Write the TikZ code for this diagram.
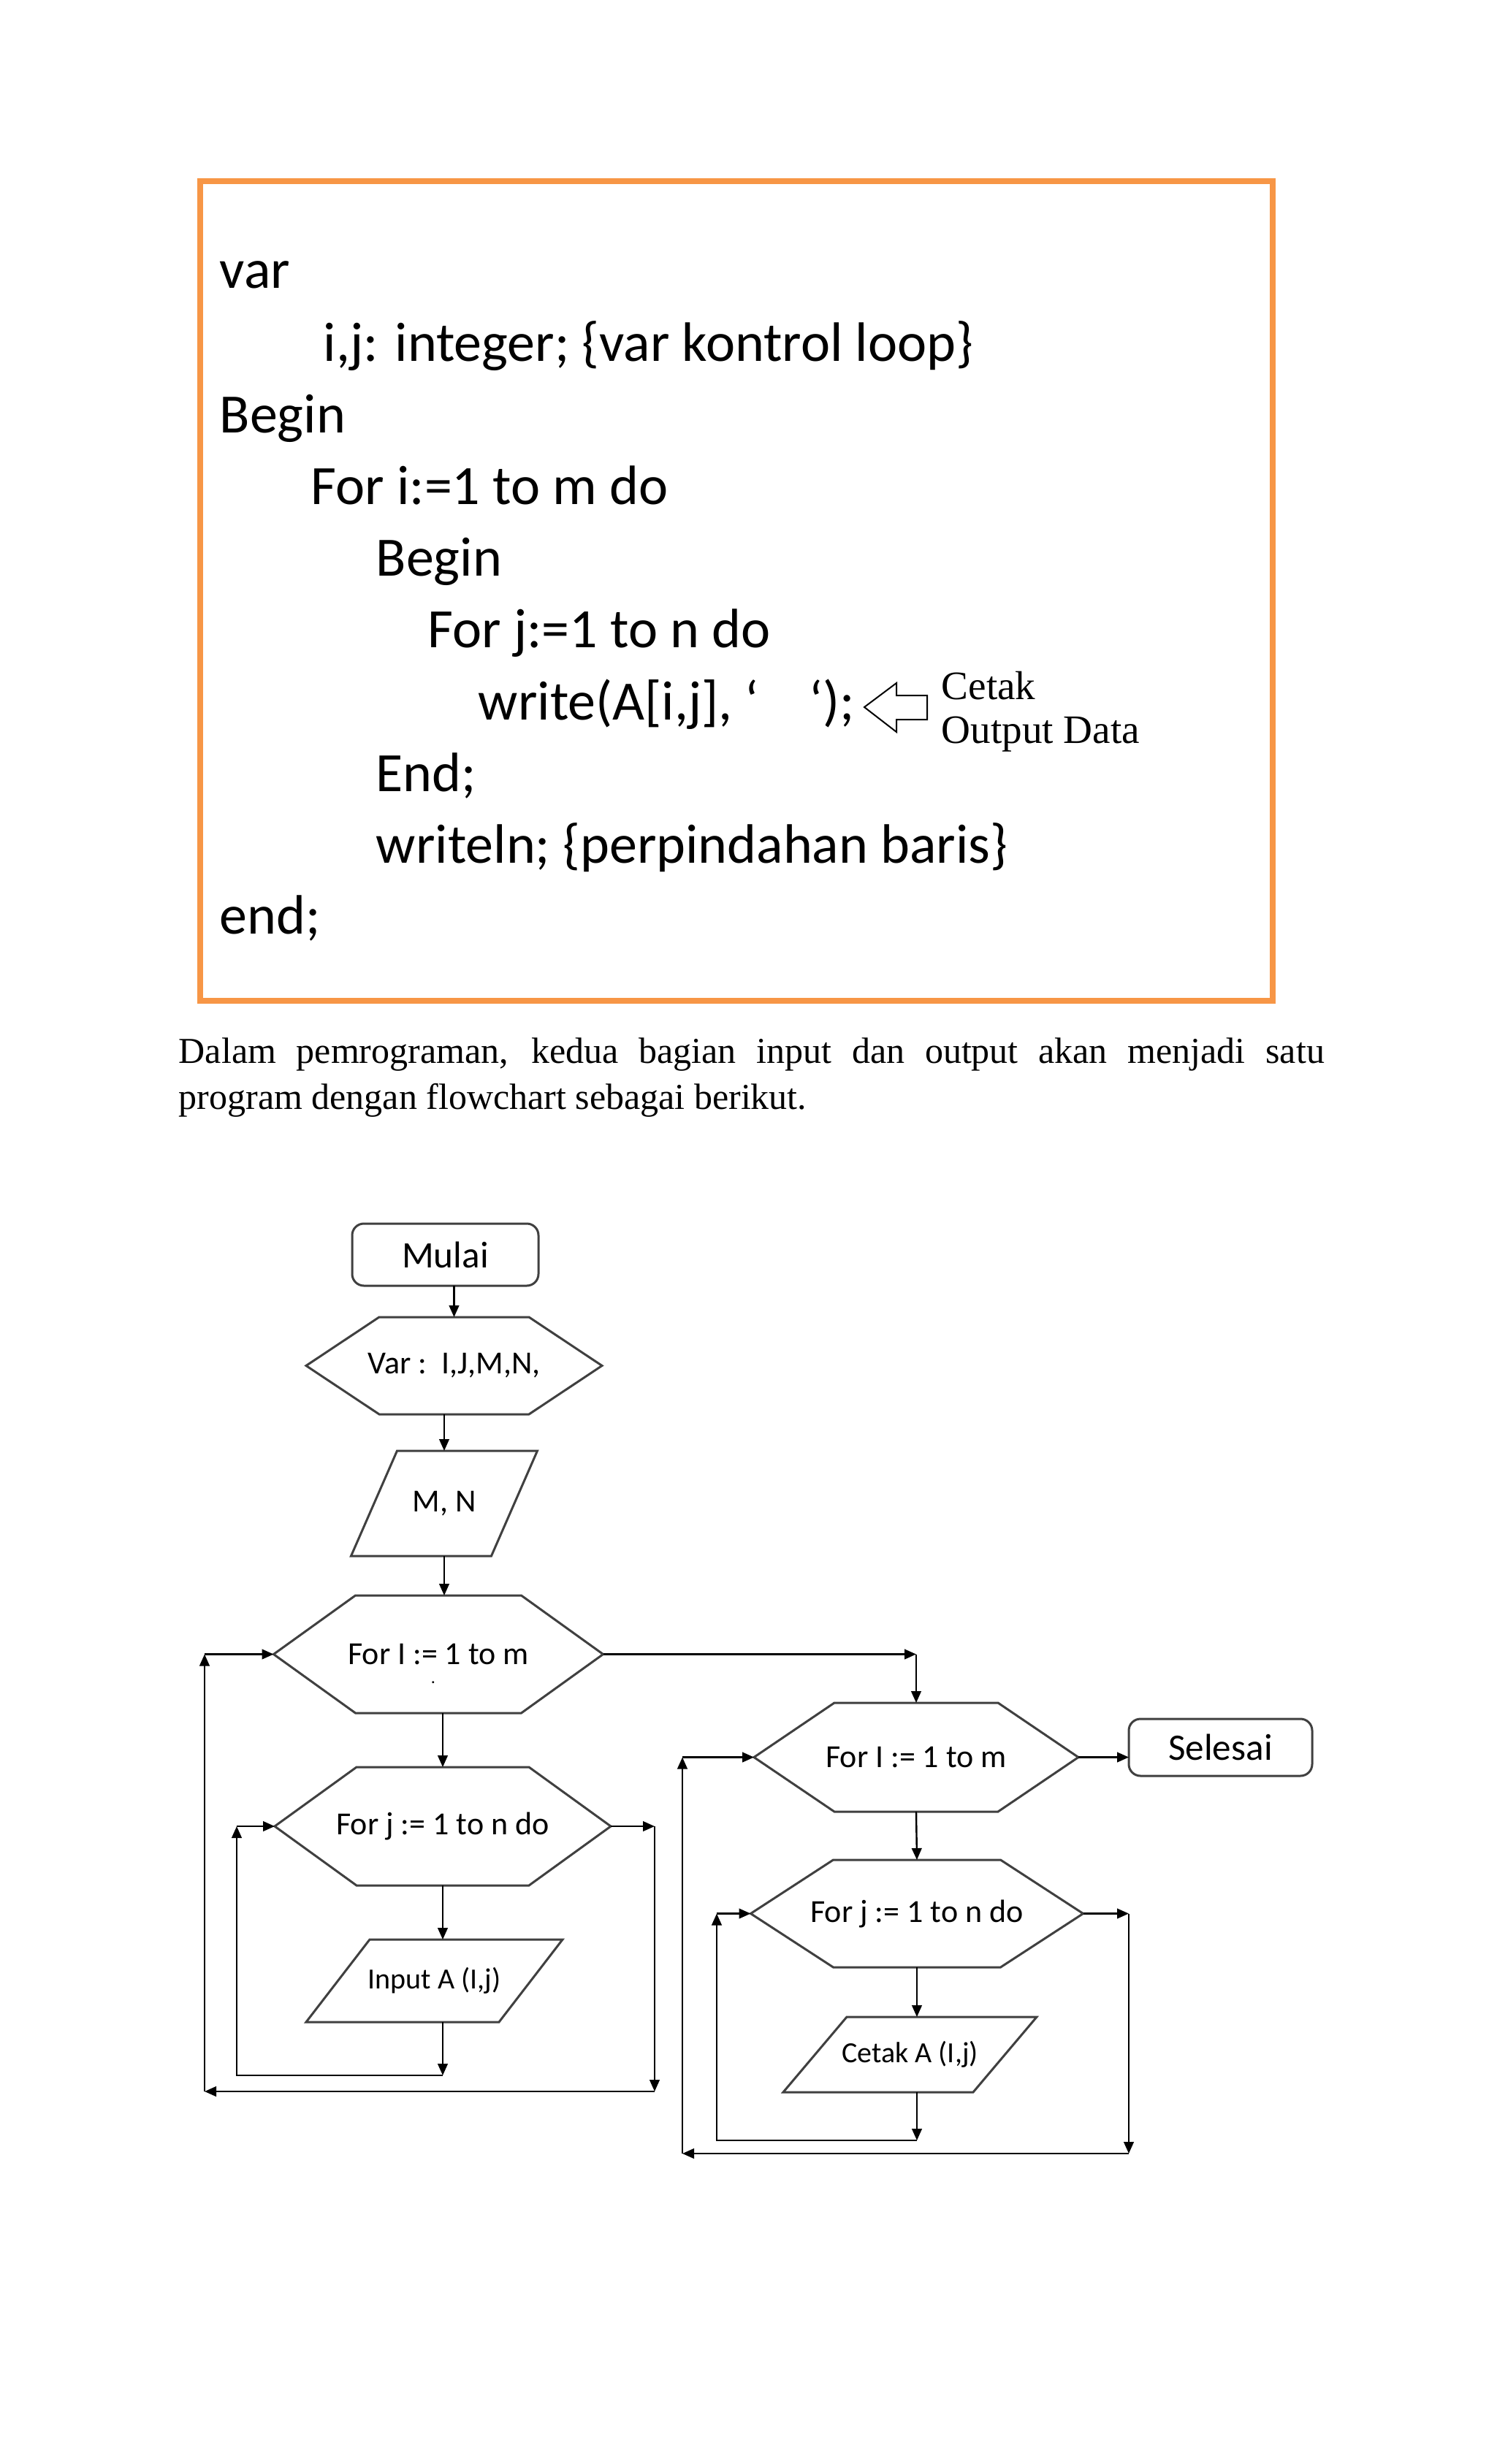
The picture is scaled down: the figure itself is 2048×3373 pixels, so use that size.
\documentclass[tikz,border=0pt]{standalone}
\usepackage{fontspec}
\setmainfont{Liberation Serif}
\newfontfamily\calfont{Carlito}
\usetikzlibrary{arrows.meta}
\definecolor{boxorange}{HTML}{F79646}

\begin{document}
\begin{tikzpicture}[x=0.25pt, y=-0.25pt,
    arr/.style={-{Triangle[length=4pt,width=3.4pt]}, line width=0.6pt},
    outline/.style={draw=black!75, line width=0.75pt, line join=miter},
    shapebox/.style={inner sep=0pt, outer sep=0pt, font=\calfont\fontsize{11}{13}\selectfont},
    smalltext/.style={font=\calfont\fontsize{10}{12}\selectfont},
    term/.style={shapebox, draw=black!75, line width=0.75pt, rounded corners=4pt, font=\calfont\fontsize{12.8}{15}\selectfont},
    codeline/.style={anchor=base west, inner sep=0pt, font=\calfont\fontsize{19}{23}\selectfont},
    serifline/.style={anchor=base west, inner sep=0pt}]
    \fill[white] (0,0) rectangle (2048,3373);
    \useasboundingbox (0,0) rectangle (2048,3373);

    % potongan program
    \draw[boxorange, line width=1.8pt] (274,248) rectangle (1742,1370);
    \node[codeline] (code1) at (300,394) {var};
    \node[codeline] (code2) at (442,494) {i,j: integer; \{var kontrol loop\}};
    \node[codeline] (code3) at (300,592) {Begin};
    \node[codeline] (code4) at (425,690) {For i:=1 to m do};
    \node[codeline] (code5) at (514,788) {Begin};
    \node[codeline] (code6) at (585,886) {For j:=1 to n do};
    \node[codeline] (code7) at (654,985) {write(A[i,j], ‘\hspace{0.9em}‘);};
    \node[codeline] (code8) at (514,1083) {End;};
    \node[codeline] (code9) at (514,1181) {writeln; \{perpindahan baris\}};
    \node[codeline] (code10) at (300,1278) {end;};
    \draw[line width=0.5pt, fill=white] (1183,968) -- (1227,935) -- (1227,952) -- (1269,952) -- (1269,985) -- (1227,985) -- (1227,1002) -- cycle;
    \node[serifline, font=\fontsize{13.8}{15}\selectfont] (cetakA) at (1288,957) {Cetak};
    \node[serifline, font=\fontsize{13.8}{15}\selectfont] (cetakB) at (1288,1017) {Output Data};

    % paragraf
    \node[serifline, font=\fontsize{12.5}{15}\selectfont] (par1) at (244,1455) {\makebox[392pt][s]{Dalam pemrograman, kedua bagian input dan output akan menjadi satu}};
    \node[serifline, font=\fontsize{12.5}{15}\selectfont] (par2) at (244,1518) {program dengan flowchart sebagai berikut.};

    % flowchart input
    \node[term, minimum width=63.75pt, minimum height=21.25pt] (mulai) at (609.5,1717.5) {Mulai};
    \node[shapebox, minimum width=101.25pt, minimum height=33.25pt] (var) at (621.5,1869.5) {Var :\ \ I,J,M,N,};
    \node[shapebox, minimum width=63.75pt, minimum height=36pt] (mn) at (608,2058) {M, N};
    \node[shapebox, minimum width=112.75pt, minimum height=40.25pt] (forI) at (600,2264.5) {For I := 1 to m};
    \node[inner sep=0pt, font=\calfont\fontsize{6}{7}\selectfont] (titik) at (593,2303) {.};
    \node[shapebox, minimum width=115pt, minimum height=40.5pt] (forJ) at (606,2500) {For j := 1 to n do};
    \node[shapebox, smalltext, minimum width=87.75pt, minimum height=28.25pt] (inA) at (594.5,2711.5) {Input A (I,j)};

    % flowchart output
    \node[shapebox, minimum width=111pt, minimum height=37.25pt] (forI2) at (1254,2405.5) {For I := 1 to m};
    \node[term, minimum width=62.75pt, minimum height=19.5pt] (selesai) at (1670.5,2392) {Selesai};
    \node[shapebox, minimum width=113.75pt, minimum height=36.75pt] (forJ2) at (1255,2619.5) {For j := 1 to n do};
    \node[shapebox, smalltext, minimum width=86.75pt, minimum height=25.75pt] (cetak) at (1245.5,2812.5) {Cetak A (I,j)};

    % garis bentuk
    \foreach \n/\c in {var/25pt, forI/28pt, forJ/28pt, forI2/27.5pt, forJ2/28.25pt}
        \draw[outline] (\n.west) -- ([xshift=\c]\n.north west) -- ([xshift=-\c]\n.north east) -- (\n.east) -- ([xshift=-\c]\n.south east) -- ([xshift=\c]\n.south west) -- cycle;
    \foreach \n/\s in {mn/15.75pt, inA/21.75pt, cetak/21.75pt}
        \draw[outline] (\n.south west) -- ([xshift=\s]\n.north west) -- (\n.north east) -- ([xshift=-\s]\n.south east) -- cycle;

    \coordinate (jBot) at (606,2841);
    \coordinate (jLoop) at (324,2841);
    \coordinate (iRight) at (896,2863);
    \coordinate (iLoop) at (280,2863);
    \coordinate (jBot2) at (1255,2930);
    \coordinate (jLoop2) at (981,2930);
    \coordinate (iRight2) at (1545,2948);
    \coordinate (iLoop2) at (934,2948);

    % panah input
    \draw[arr] (var.north |- mulai.south) -- (var.north);
    \draw[arr] (mn.north |- var.south) -- (mn.north);
    \draw[arr] (mn.south) -- (mn.south |- forI.north);
    \draw[arr] (forJ.north |- forI.south) -- (forJ.north);
    \draw[arr] (forJ.south) -- (forJ.south |- inA.north);
    \draw[arr] (forJ.south |- inA.south) -- (jBot);
    \draw[arr] (jBot) -- (jLoop) -- (jLoop |- forJ.west);
    \draw[arr] (jLoop |- forJ.west) -- (forJ.west);
    \draw[arr] (forJ.east) -- (forJ.east -| iRight);
    \draw[arr] (forJ.east -| iRight) -- (iRight);
    \draw[arr] (iRight) -- (iLoop);
    \draw[arr] (iLoop) -- (iLoop |- forI.west);
    \draw[arr] (iLoop |- forI.west) -- (forI.west);

    % panah output
    \draw[arr] (forI.east) -- (forI.east -| forI2.north);
    \draw[arr] (forI.east -| forI2.north) -- (forI2.north);
    \draw[arr] (forI2.east) -- (forI2.east -| selesai.west);
    \draw[arr] (forI2.south) -- (forJ2.north);
    \draw[arr] (forJ2.south) -- (forJ2.south |- cetak.north);
    \draw[arr] (forJ2.south |- cetak.south) -- (jBot2);
    \draw[arr] (jBot2) -- (jLoop2) -- (jLoop2 |- forJ2.west);
    \draw[arr] (jLoop2 |- forJ2.west) -- (forJ2.west);
    \draw[arr] (forJ2.east) -- (forJ2.east -| iRight2);
    \draw[arr] (forJ2.east -| iRight2) -- (iRight2);
    \draw[arr] (iRight2) -- (iLoop2);
    \draw[arr] (iLoop2) -- (iLoop2 |- forI2.west);
    \draw[arr] (iLoop2 |- forI2.west) -- (forI2.west);
\end{tikzpicture}
\end{document}
